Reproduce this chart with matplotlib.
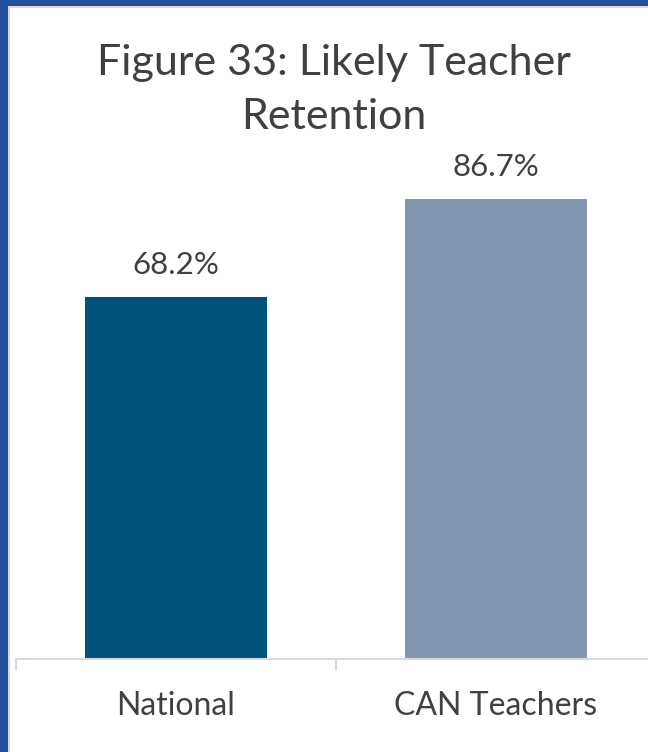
import matplotlib.pyplot as plt
from matplotlib.patches import Rectangle

categories = ['National', 'CAN Teachers']
values = [68.2, 86.7]
value_labels = ['68.2%', '86.7%']
bar_colors = ['#00527D', '#8497B0']

W, H = 648, 752
fig = plt.figure(figsize=(W / 100, H / 100), dpi=100)
fig.patch.set_facecolor('#22509A')

# frame: blue edge on left/top, thin grey line, white panel
fig.patches.append(Rectangle((8 / W, 0), 1, 1 - 6 / H, transform=fig.transFigure,
                             facecolor='#D9D9D9', edgecolor='none', zorder=-5))
fig.patches.append(Rectangle((10 / W, 0), 1, 1 - 8 / H, transform=fig.transFigure,
                             facecolor='white', edgecolor='none', zorder=-4))

ax = fig.add_axes([16 / W, 93 / H, 640 / W, 531 / H])
ax.set_facecolor('none')
x = range(len(categories))
ax.bar(x, values, width=0.57, color=bar_colors, zorder=2)
ax.set_xlim(-0.5, 1.5)
ax.set_ylim(0, 100)

for xi, v, lab in zip(x, values, value_labels):
    ax.annotate(lab, (xi, v), xytext=(0, 23), textcoords='offset points',
                ha='center', va='center', fontsize=22.5, color='#404040',
                family='Lato')

for s in ['left', 'right', 'top']:
    ax.spines[s].set_visible(False)
ax.spines['bottom'].set_color('#D9D9D9')
ax.spines['bottom'].set_linewidth(1.5)
ax.set_yticks([])
ax.set_xticks([-0.5, 0.5], minor=False)
ax.set_xticklabels(['', ''])
ax.tick_params(axis='x', length=8, width=1.5, color='#D9D9D9')
for xi, c in zip(x, categories):
    ax.text(xi, -47 / 531, c, transform=ax.get_xaxis_transform(), ha='center',
            va='center', fontsize=23, color='#404040', family='Lato')

fig.text(334 / W, 1 - 90 / H, 'Figure 33: Likely Teacher\nRetention', ha='center',
         va='center', fontsize=31, color='#404040', family='Lato', linespacing=1.5)

fig.savefig('out.png', dpi=100)
